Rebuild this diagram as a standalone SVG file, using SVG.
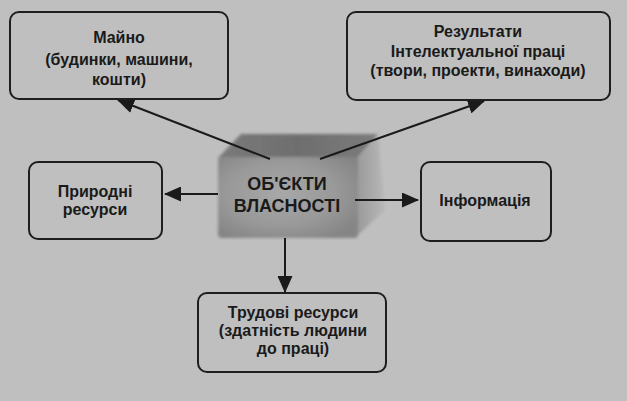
<svg xmlns="http://www.w3.org/2000/svg" width="627" height="401" viewBox="0 0 627 401">
  <style>
    .box { fill: none; stroke: #1e1e1e; stroke-width: 2; }
    .t { font-family: "Liberation Sans", Arial, sans-serif; font-weight: bold; font-size: 16px; fill: #1a1a1a; text-anchor: middle; }
    .tc { font-family: "Liberation Sans", Arial, sans-serif; font-weight: bold; font-size: 18px; fill: #1a1a1a; text-anchor: middle; }
    .conn { stroke: #1a1a1a; stroke-width: 2; fill: none; marker-end: url(#arr); }
  </style>
  <defs>
    <marker id="arr" markerUnits="userSpaceOnUse" markerWidth="17" markerHeight="15" refX="16" refY="7.5" orient="auto">
      <path d="M0,0 L17,7.5 L0,15 z" fill="#1a1a1a"/>
    </marker>
    <radialGradient id="front" cx="0.45" cy="0.45" r="0.65">
      <stop offset="0" stop-color="#a8a8a8"/>
      <stop offset="0.6" stop-color="#999999"/>
      <stop offset="1" stop-color="#858585"/>
    </radialGradient>
    <linearGradient id="top" x1="0" y1="0" x2="1" y2="0">
      <stop offset="0" stop-color="#7a7a7a"/>
      <stop offset="0.5" stop-color="#6e6e6e"/>
      <stop offset="1" stop-color="#7c7c7c"/>
    </linearGradient>
    <linearGradient id="side" x1="0" y1="0" x2="1" y2="0">
      <stop offset="0" stop-color="#9a9a9a"/>
      <stop offset="1" stop-color="#b8b8b8"/>
    </linearGradient>
    <filter id="soft" x="-10%" y="-10%" width="120%" height="120%">
      <feGaussianBlur stdDeviation="1.6"/>
    </filter>
  </defs>

  <rect x="0" y="0" width="627" height="401" fill="#bfbfbf"/>

  <g id="node-center">
    <g filter="url(#soft)">
      <polygon points="357,158 378,136 385,210 357,236" fill="url(#side)"/>
      <polygon points="218,158 241,134 378,134 357,158" fill="url(#top)"/>
      <rect x="218" y="157" width="140" height="81" rx="4" fill="url(#front)"/>
    </g>
    <text class="tc" x="287" y="190">ОБ'ЄКТИ</text>
    <text class="tc" x="287" y="212">ВЛАСНОСТІ</text>
  </g>

  <g id="connectors">
    <line class="conn" x1="270" y1="159" x2="118" y2="100"/>
    <line class="conn" x1="320" y1="159" x2="484" y2="101"/>
    <line class="conn" x1="218" y1="194" x2="165" y2="194"/>
    <line class="conn" x1="355" y1="200" x2="418" y2="200"/>
    <line class="conn" x1="285" y1="238" x2="285" y2="292"/>
  </g>

  <g id="node-maino">
    <rect class="box" x="10" y="12" width="218" height="87" rx="9"/>
    <text class="t" x="119" y="43">Майно</text>
    <text class="t" x="119" y="65">(будинки, машини,</text>
    <text class="t" x="119" y="85">кошти)</text>
  </g>

  <g id="node-results">
    <rect class="box" x="347" y="12" width="263" height="88" rx="9"/>
    <text class="t" x="478" y="37">Результати</text>
    <text class="t" x="478" y="57">Інтелектуальної  праці</text>
    <text class="t" x="478" y="76">(твори, проекти, винаходи)</text>
  </g>

  <g id="node-nature">
    <rect class="box" x="29" y="162" width="133" height="77" rx="9"/>
    <text class="t" x="95" y="197">Природні</text>
    <text class="t" x="95" y="215">ресурси</text>
  </g>

  <g id="node-info">
    <rect class="box" x="421" y="162" width="130" height="79" rx="9"/>
    <text class="t" x="485" y="206">Інформація</text>
  </g>

  <g id="node-labour">
    <rect class="box" x="198" y="293" width="188" height="79" rx="9"/>
    <text class="t" x="293" y="318">Трудові ресурси</text>
    <text class="t" x="293" y="336">(здатність людини</text>
    <text class="t" x="293" y="354">до праці)</text>
  </g>
</svg>
